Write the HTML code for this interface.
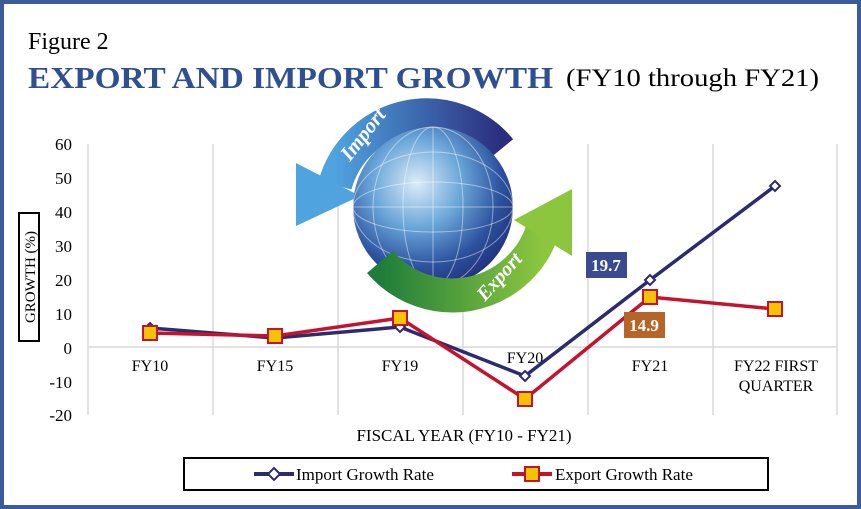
<!DOCTYPE html>
<html><head><meta charset="utf-8"><style>
html,body{margin:0;padding:0;background:#fff}
svg{display:block}
text{font-family:"Liberation Serif",serif}
</style></head><body>
<svg width="861" height="509" viewBox="0 0 861 509" xmlns="http://www.w3.org/2000/svg">
<defs>
<radialGradient id="gl" cx="0.4" cy="0.35" r="0.7">
<stop offset="0" stop-color="#dcecf8"/><stop offset="0.4" stop-color="#6aa6d8"/><stop offset="0.75" stop-color="#2c529e"/><stop offset="1" stop-color="#232f78"/>
</radialGradient>
<linearGradient id="ib" x1="0" y1="0" x2="1" y2="0"><stop offset="0" stop-color="#4fa3df"/><stop offset="1" stop-color="#2b2f7e"/></linearGradient>
<linearGradient id="gb" x1="0" y1="0" x2="1" y2="0"><stop offset="0" stop-color="#1f7d3a"/><stop offset="1" stop-color="#8cc63f"/></linearGradient>
</defs>
<rect x="2" y="2" width="857" height="505" fill="#fff" stroke="#3d5a9a" stroke-width="4"/>
<text x="28" y="49" font-size="24" fill="#000">Figure 2</text>
<text x="28" y="88" font-size="31" font-weight="bold" fill="#2f4f93" textLength="525" lengthAdjust="spacingAndGlyphs">EXPORT AND IMPORT GROWTH</text>
<text x="566" y="86" font-size="25" fill="#000" textLength="253" lengthAdjust="spacingAndGlyphs">(FY10 through FY21)</text>
<g stroke="#d9d9d9" stroke-width="1.5">
<line x1="88" y1="144" x2="88" y2="415"/><line x1="213" y1="144" x2="213" y2="415"/><line x1="338" y1="144" x2="338" y2="415"/><line x1="463" y1="144" x2="463" y2="415"/><line x1="588" y1="144" x2="588" y2="415"/><line x1="713" y1="144" x2="713" y2="415"/><line x1="837" y1="144" x2="837" y2="415"/>
<line x1="88" y1="347" x2="837" y2="347"/>
</g>
<g font-size="17" text-anchor="end" fill="#000">
<text x="72" y="150">60</text><text x="72" y="184">50</text><text x="72" y="218">40</text><text x="72" y="252">30</text><text x="72" y="286">20</text><text x="72" y="320">10</text><text x="72" y="354">0</text><text x="72" y="388">-10</text><text x="72" y="421">-20</text>
</g>
<rect x="19" y="213" width="20" height="128" fill="#fff" stroke="#000" stroke-width="2"/>
<text transform="translate(35,277) rotate(-90)" font-size="15" text-anchor="middle">GROWTH (%)</text>
<path d="M500,150 A95,95 0 0 0 335,185" fill="none" stroke="url(#ib)" stroke-width="34"/>
<path d="M296,163 L360,196 L296,226 Z" fill="#4fa3df"/>
<text transform="translate(350,162) rotate(-52)" font-size="21" font-weight="bold" fill="#fff" font-family="Liberation Sans,sans-serif" font-style="italic">Import</text>
<circle cx="433" cy="207" r="80" fill="url(#gl)"/>
<g fill="none" stroke="#fff" stroke-opacity="0.45" stroke-width="1">
<ellipse cx="433" cy="207" rx="30" ry="80"/><ellipse cx="433" cy="207" rx="60" ry="80"/>
<line x1="433" y1="127" x2="433" y2="287"/>
<ellipse cx="433" cy="207" rx="80" ry="25"/><ellipse cx="433" cy="207" rx="80" ry="55"/>
<line x1="353" y1="207" x2="513" y2="207"/>
</g>
<path d="M380,262 A95,95 0 0 0 542,232" fill="none" stroke="url(#gb)" stroke-width="34"/>
<path d="M572,189 L572,256 L514,220 Z" fill="#8cc63f"/>
<text transform="translate(485,302) rotate(-48)" font-size="20" font-weight="bold" fill="#fff" font-family="Liberation Sans,sans-serif" font-style="italic">Export</text>
<g font-size="16" text-anchor="middle" fill="#000">
<text x="150" y="371">FY10</text><text x="275" y="371">FY15</text><text x="400" y="371">FY19</text><text x="525" y="363">FY20</text><text x="650" y="371">FY21</text><text x="776" y="371">FY22 FIRST</text><text x="776" y="391">QUARTER</text>
</g>
<text x="464" y="441" font-size="17" text-anchor="middle">FISCAL YEAR (FY10 - FY21)</text>
<polyline points="150,328 275,338 400,327 525,376 650,280 775,186" fill="none" stroke="#2e2a6e" stroke-width="3.5"/>
<polyline points="150,333 275,336 400,318 525,399 650,297 775,309" fill="none" stroke="#c4122f" stroke-width="3.5"/>
<g fill="#fff" stroke="#2e2a6e" stroke-width="2">
<path d="M150,323 l5,5 l-5,5 l-5,-5z"/><path d="M275,333 l5,5 l-5,5 l-5,-5z"/><path d="M400,322 l5,5 l-5,5 l-5,-5z"/><path d="M525,371 l5,5 l-5,5 l-5,-5z"/><path d="M650,275 l5,5 l-5,5 l-5,-5z"/><path d="M775,181 l5,5 l-5,5 l-5,-5z"/>
</g>
<g fill="#f5c400" stroke="#c4122f" stroke-width="2">
<rect x="143" y="326" width="14" height="14"/><rect x="268" y="329" width="14" height="14"/><rect x="393" y="311" width="14" height="14"/><rect x="518" y="392" width="14" height="14"/><rect x="643" y="290" width="14" height="14"/><rect x="768" y="302" width="14" height="14"/>
</g>
<rect x="586" y="252" width="41" height="26" fill="#3b4a8f"/>
<text x="606" y="271" font-size="17" font-weight="bold" fill="#fff" text-anchor="middle">19.7</text>
<rect x="624" y="312" width="41" height="26" fill="#b5652a"/>
<text x="644" y="331" font-size="17" font-weight="bold" fill="#fff" text-anchor="middle">14.9</text>
<rect x="184" y="458" width="584" height="32" fill="#fff" stroke="#000" stroke-width="2"/>
<line x1="254" y1="474" x2="294" y2="474" stroke="#2e2a6e" stroke-width="4"/>
<path d="M274,468 l6,6 l-6,6 l-6,-6z" fill="#fff" stroke="#2e2a6e" stroke-width="2"/>
<text x="296" y="480" font-size="17">Import Growth Rate</text>
<line x1="512" y1="474" x2="552" y2="474" stroke="#c4122f" stroke-width="4"/>
<rect x="525" y="467" width="14" height="14" fill="#f5c400" stroke="#c4122f" stroke-width="2"/>
<text x="555" y="480" font-size="17">Export Growth Rate</text>
</svg>
</body></html>
